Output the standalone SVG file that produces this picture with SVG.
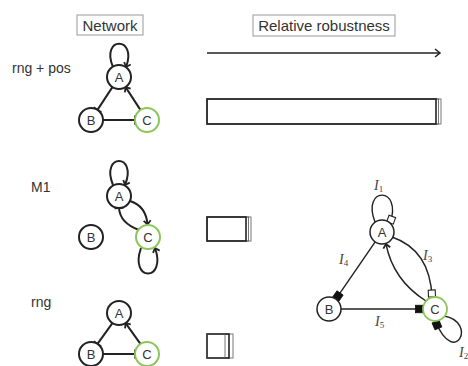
<svg xmlns="http://www.w3.org/2000/svg" width="468" height="366" viewBox="0 0 468 366">
<style>
.hdr{font-family:"Liberation Sans",Arial,sans-serif;font-size:15px;fill:#333;text-anchor:middle}
.hbox{fill:none;stroke:#999;stroke-width:1}
.row{font-family:"Liberation Sans",Arial,sans-serif;font-size:14px;fill:#333}
.node circle{fill:#fff;stroke:#222;stroke-width:2}
.node.g circle{stroke:#8cc65a}
.node text{font-family:"Liberation Sans",Arial,sans-serif;font-size:13px;fill:#333;text-anchor:middle}
.e{fill:none;stroke:#222;stroke-width:2}
.e2{fill:none;stroke:#222;stroke-width:1.4}
.lab{font-family:"Liberation Serif","Times New Roman",serif;font-style:italic;font-size:14px;fill:#444}
.lab tspan{font-style:normal;font-size:9px}
.bar{fill:none;stroke:#222;stroke-width:1.6}
.barx{fill:none;stroke:#555;stroke-width:1;opacity:0.8}
</style>
<defs>
<marker id="arr" markerUnits="userSpaceOnUse" markerWidth="12" markerHeight="12" viewBox="-6 -6 12 12" refX="0" refY="0" orient="auto" overflow="visible">
<path d="M-4,-3.5 L0,0 L-4,3.5" fill="none" stroke="#222" stroke-width="1.8"/>
</marker>
<marker id="bar" markerUnits="userSpaceOnUse" markerWidth="12" markerHeight="12" viewBox="-6 -6 12 12" refX="0" refY="0" orient="auto" overflow="visible">
<path d="M0,-4.5 L0,4.5" fill="none" stroke="#222" stroke-width="2"/>
</marker>
<marker id="sqf" markerUnits="userSpaceOnUse" markerWidth="12" markerHeight="12" viewBox="-10 -6 12 12" refX="0" refY="0" orient="auto" overflow="visible">
<rect x="-7.5" y="-3.75" width="7.5" height="7.5" fill="#111" stroke="#111" stroke-width="0.8"/>
</marker>
<marker id="sqo" markerUnits="userSpaceOnUse" markerWidth="12" markerHeight="12" viewBox="-10 -6 12 12" refX="0" refY="0" orient="auto" overflow="visible">
<rect x="-7" y="-3.5" width="7" height="7" fill="#fff" stroke="#222" stroke-width="1.1"/>
</marker>
<marker id="arrM" markerUnits="userSpaceOnUse" markerWidth="12" markerHeight="12" viewBox="-6 -6 12 12" refX="0" refY="0" orient="auto" overflow="visible">
<path d="M-5,-4 L0,0 L-5,4" fill="none" stroke="#222" stroke-width="1.5"/>
</marker>
</defs>

<g id="headers">
<rect class="hbox" x="77" y="15" width="66" height="20"/>
<text class="hdr" x="110" y="31">Network</text>
<rect class="hbox" x="253" y="15" width="142" height="21"/>
<text class="hdr" x="324" y="31">Relative robustness</text>
</g>

<g id="row-labels">
<text class="row" x="12" y="73">rng + pos</text>
<text class="row" x="31" y="192">M1</text>
<text class="row" x="31" y="307">rng</text>
</g>

<g id="connectors">
<path class="e2" d="M207,53 L440,53" marker-end="url(#arrM)"/>
<path class="e" d="M113,67 C100,36 138,36 126,67" marker-end="url(#arr)"/>
<path class="e" d="M112.4,87.1 L97.5,109.9" marker-end="url(#bar)"/>
<path class="e" d="M103,120 L135,120" marker-end="url(#bar)"/>
<path class="e" d="M140.4,109.9 L125.6,87.1" marker-end="url(#arr)"/>
<path class="e" d="M113,185 C100,153 138,153 125,185" marker-end="url(#arr)"/>
<path class="e" d="M130,201 Q146,206 147.5,224.5" marker-end="url(#arr)"/>
<path class="e" d="M139,230 Q120,223 119,208" marker-end="url(#bar)"/>
<path class="e" d="M141,248 C129,282 167,282 155,248" marker-end="url(#arr)"/>
<path class="e" d="M112.4,323.1 L97.5,343.9" marker-end="url(#bar)"/>
<path class="e" d="M103,354 L135,354" marker-end="url(#bar)"/>
<path class="e" d="M140.4,343.9 L125.6,323.1" marker-end="url(#arr)"/>
<path class="e2" d="M375,222 C361,186 403,186 390,223" marker-end="url(#sqo)"/>
<path class="e2" d="M375.2,241.9 L335.8,299.1" marker-end="url(#sqf)"/>
<path class="e2" d="M341,309 L423,309" marker-end="url(#sqf)"/>
<path class="e2" d="M392,237 Q430,250 432,297" marker-end="url(#sqo)"/>
<path class="e2" d="M426,301 Q393,280 386,244" marker-end="url(#arr)"/>
<path class="e2" d="M444,316 C478,322 455,368 435.5,321.5" marker-end="url(#sqf)"/>
</g>

<g id="bars">
<rect class="barx" x="207" y="99" width="234" height="25"/>
<rect class="barx" x="207" y="99" width="231.5" height="25"/>
<rect class="bar" x="207" y="99" width="229" height="25"/>
<rect class="barx" x="207" y="217" width="44" height="24"/>
<rect class="barx" x="207" y="217" width="41.5" height="24"/>
<rect class="bar" x="207" y="217" width="39" height="24"/>
<rect class="barx" x="207" y="334" width="26" height="24"/>
<rect class="bar" x="207" y="334" width="22" height="24"/>
<rect class="barx" x="207" y="334" width="18" height="24"/>
</g>

<g id="n1A" class="node"><circle cx="119" cy="77" r="12"/><text x="119" y="81.5">A</text></g>
<g id="n1B" class="node"><circle cx="91" cy="120" r="12"/><text x="91" y="124.5">B</text></g>
<g id="n1C" class="node g"><circle cx="147" cy="120" r="12"/><text x="147" y="124.5">C</text></g>

<g id="n2A" class="node"><circle cx="119" cy="196" r="12"/><text x="119" y="200.5">A</text></g>
<g id="n2B" class="node"><circle cx="91" cy="237" r="12"/><text x="91" y="241.5">B</text></g>
<g id="n2C" class="node g"><circle cx="148" cy="237" r="12"/><text x="148" y="241.5">C</text></g>

<g id="n3A" class="node"><circle cx="119" cy="313" r="12"/><text x="119" y="317.5">A</text></g>
<g id="n3B" class="node"><circle cx="91" cy="354" r="12"/><text x="91" y="358.5">B</text></g>
<g id="n3C" class="node g"><circle cx="147" cy="354" r="12"/><text x="147" y="358.5">C</text></g>

<g id="rA" class="node"><circle cx="382" cy="232" r="12" style="stroke-width:1.5"/><text x="382" y="236.5">A</text></g>
<g id="rB" class="node"><circle cx="329" cy="309" r="12" style="stroke-width:1.5"/><text x="329" y="313.5">B</text></g>
<g id="rC" class="node g"><circle cx="435" cy="309" r="12" style="stroke-width:1.8"/><text x="435" y="313.5">C</text></g>

<g id="labels">
<text class="lab" x="374" y="190">I<tspan dy="2">1</tspan></text>
<text class="lab" x="459" y="357">I<tspan dy="2">2</tspan></text>
<text class="lab" x="423" y="260">I<tspan dy="2">3</tspan></text>
<text class="lab" x="339" y="264">I<tspan dy="2">4</tspan></text>
<text class="lab" x="375" y="326">I<tspan dy="2">5</tspan></text>
</g>
</svg>
